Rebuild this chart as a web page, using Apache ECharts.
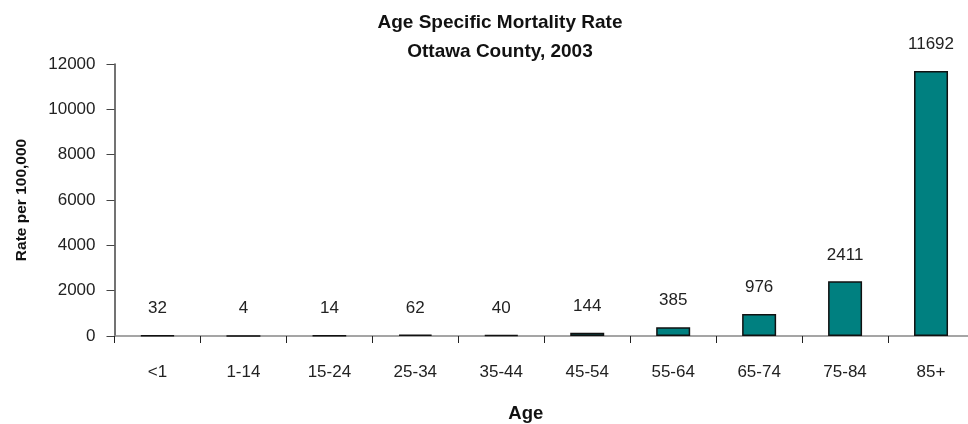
<!DOCTYPE html>
<html>
<head>
<meta charset="utf-8">
<script src="https://cdn.jsdelivr.net/npm/echarts@6/dist/echarts.min.js"></script>
<style>
html,body{margin:0;padding:0;background:#fff;}
#chart{width:968px;height:424px;}
</style>
</head>
<body>
<div id="chart"></div>
<script>
var categories = ['<1', '1-14', '15-24', '25-34', '35-44', '45-54', '55-64', '65-74', '75-84', '85+'];
var rates = [32, 4, 14, 62, 40, 144, 385, 976, 2411, 11692];
var titleLines = ['Age Specific Mortality Rate', 'Ottawa County, 2003'];
var xName = 'Age';
var yName = 'Rate per 100,000';

var FONT = '"Liberation Sans", Arial, sans-serif';
var chart = echarts.init(document.getElementById('chart'), null, {renderer: 'canvas'});
chart.setOption({
  animation: false,
  backgroundColor: '#ffffff',
  title: {
    text: titleLines.join('\n'),
    left: 495,
    textAlign: 'center',
    top: 3,
    textStyle: {fontFamily: FONT, fontSize: 19, fontWeight: 'bold', color: '#111', lineHeight: 29}
  },
  grid: {left: 114.5, right: -6, top: 64, bottom: 88, containLabel: false, outerBoundsMode: 'none'},
  xAxis: {
    type: 'category',
    data: categories,
    name: xName,
    nameLocation: 'middle',
    nameGap: 68,
    nameTextStyle: {fontFamily: FONT, fontSize: 18.5, fontWeight: 'bold', color: '#111', padding: [0, 37, 0, 0]},
    axisLine: {lineStyle: {color: '#888', width: 1.5}},
    axisTick: {show: true, alignWithLabel: false, length: 7, lineStyle: {color: '#222', width: 1}},
    axisLabel: {fontFamily: FONT, fontSize: 17, color: '#222', margin: 28, interval: 0}
  },
  yAxis: {
    type: 'value',
    min: 0,
    max: 12000,
    interval: 2000,
    name: yName,
    nameLocation: 'middle',
    nameGap: 85,
    nameTextStyle: {fontFamily: FONT, fontSize: 15.5, fontWeight: 'bold', color: '#111'},
    splitLine: {show: false},
    axisLine: {show: true, lineStyle: {color: '#444', width: 1.5}},
    axisTick: {show: true, length: 8, lineStyle: {color: '#444', width: 1}},
    axisLabel: {fontFamily: FONT, fontSize: 17, color: '#222', margin: 19, formatter: function (v) { return String(v); }}
  },
  series: [{
    type: 'bar',
    data: rates,
    barWidth: 34,
    itemStyle: {color: '#008080', borderColor: '#111', borderWidth: 1.5},
    label: {show: true, position: 'top', distance: 18, fontFamily: FONT, fontSize: 17, color: '#222'}
  }]
});
</script>
</body>
</html>
